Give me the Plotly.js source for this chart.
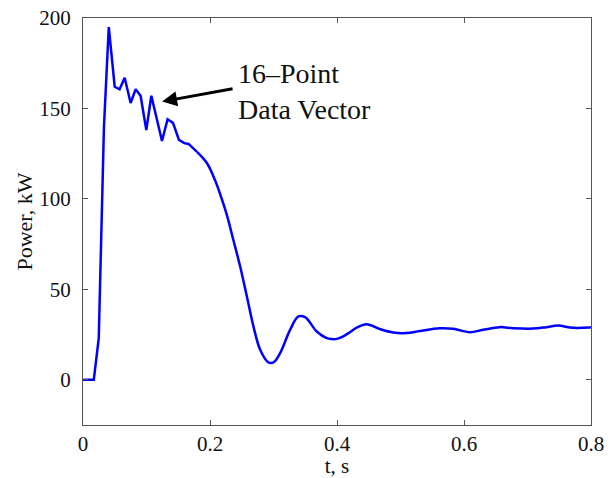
<!DOCTYPE html>
<html>
<head>
<meta charset="utf-8">
<script src="https://cdn.plot.ly/plotly-3.0.1.min.js"></script>
<style>html,body{margin:0;padding:0;background:#fff;}#chart{width:616px;height:478px;}</style>
</head>
<body>
<div id="chart"></div>
<script>
const timeS = [0, 0.017, 0.0248, 0.033, 0.0406, 0.0499, 0.0577, 0.0656, 0.075, 0.0829, 0.0907, 0.0997, 0.1076,
  0.1244, 0.1332, 0.1417, 0.1511, 0.1595, 0.1663, 0.1795, 0.1953, 0.2083, 0.2161, 0.2266, 0.237, 0.2475,
  0.2581, 0.2685, 0.279, 0.292, 0.2999, 0.3104, 0.3261, 0.3392, 0.3497, 0.3681, 0.3838, 0.3917, 0.3995,
  0.4099, 0.4204, 0.431, 0.4467, 0.4676, 0.4885, 0.5096, 0.5305, 0.5619, 0.5828, 0.609, 0.6299, 0.6562,
  0.6771, 0.7085, 0.7296, 0.7478, 0.7714, 0.7976, 0.8];
const powerKW = [0, 0, 23, 140, 195, 162, 160.6, 167, 153, 160.6, 157, 138, 157,
  132, 144, 142, 132.6, 130.8, 130.4, 126, 119.7, 110, 102.5, 91, 77, 62.6,
  46, 29.4, 16.6, 9.6, 9.6, 14.7, 27.6, 35, 34.6, 26.7, 23, 22.5, 22.6,
  24.0, 26.3, 28.8, 30.7, 28, 26.1, 25.8, 27, 28.5, 28.2, 26.3, 27.6, 29.1,
  28.5, 28.3, 29.1, 30, 28.7, 28.9, 29];
// index where the jagged data-vector part hands over to the smooth response
const sharpCount = 19;
const xTicks = [0, 0.2, 0.4, 0.6, 0.8];
const xTickText = ['0', '0.2', '0.4', '0.6', '0.8'];
const yTicks = [0, 50, 100, 150, 200];
const yTickText = ['0', '50', '100', '150', '200'];
const noteText = '16\u2013Point<br>Data Vector';
const arrowTip = [0.1245, 153.8];
const noteAnchor = [0.2405, 159.5];

const serif = 'Liberation Serif, Times New Roman, serif';
const axisCommon = {
  showline: true, mirror: 'ticks', linecolor: '#555', linewidth: 1,
  ticks: 'inside', ticklen: 5, tickcolor: '#555', tickwidth: 1,
  showgrid: false, zeroline: false,
  tickfont: {family: serif, size: 21, color: '#111'}
};
const layout = {
  width: 616, height: 478,
  margin: {l: 83, r: 25, t: 18, b: 53},
  paper_bgcolor: '#fff', plot_bgcolor: '#fff',
  showlegend: false,
  xaxis: Object.assign({}, axisCommon, {
    range: [0, 0.8], tickvals: xTicks, ticktext: xTickText, ticklabelstandoff: 0,
    title: {text: 't, s', font: {family: serif, size: 21, color: '#111'}, standoff: 6}
  }),
  yaxis: Object.assign({}, axisCommon, {
    range: [-25, 200], tickvals: yTicks, ticktext: yTickText, ticklabelstandoff: 7,
    title: {text: 'Power, kW', font: {family: serif, size: 22, color: '#111'}, standoff: 0}
  }),
  annotations: [
    {x: arrowTip[0], y: arrowTip[1], xref: 'x', yref: 'y', text: '', showarrow: true,
     ax: 72, ay: -13, axref: 'pixel', ayref: 'pixel',
     arrowhead: 2, arrowsize: 1, arrowwidth: 3, arrowcolor: '#000'},
    {x: noteAnchor[0], y: noteAnchor[1], xref: 'x', yref: 'y', text: noteText, showarrow: false,
     xanchor: 'left', yanchor: 'middle', align: 'left',
     font: {family: serif, size: 28, color: '#111'}}
  ]
};
const lineStyle = {color: '#0000ff', width: 2.5};
const sharp = {
  x: timeS.slice(0, sharpCount + 1), y: powerKW.slice(0, sharpCount + 1),
  type: 'scatter', mode: 'lines', line: Object.assign({shape: 'linear'}, lineStyle), hoverinfo: 'skip'
};
const smooth = {
  x: timeS.slice(sharpCount), y: powerKW.slice(sharpCount),
  type: 'scatter', mode: 'lines', line: Object.assign({shape: 'spline', smoothing: 1}, lineStyle), hoverinfo: 'skip'
};
Plotly.newPlot('chart', [sharp, smooth], layout, {displayModeBar: false, staticPlot: true});
</script>
</body>
</html>
